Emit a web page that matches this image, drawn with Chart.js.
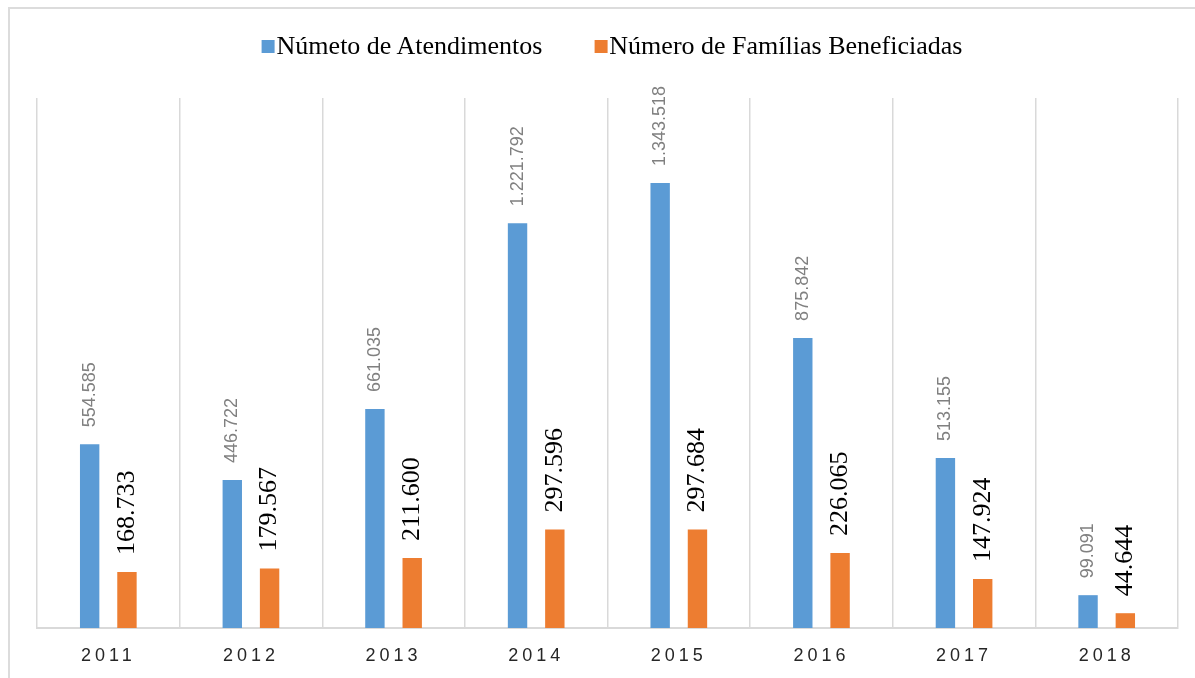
<!DOCTYPE html>
<html>
<head>
<meta charset="utf-8">
<script src="https://cdn.jsdelivr.net/npm/chart.js@4.4.1/dist/chart.umd.min.js"></script>
<style>
    body { margin: 0; background: #fff; }
    #wrap { position: relative; width: 1195px; height: 678px; overflow: hidden; }
    #frame { position: absolute; left: 8px; top: 7px; width: 1200px; height: 700px; border: 2px solid #dcdcdc; }
    #chart { position: absolute; left: 0; top: 0; }
    #legend { position: absolute; top: 32px; left: 612px; transform: translateX(-50%); white-space: nowrap;
              font-family: "Liberation Serif", "Times New Roman", serif; font-size: 26px; line-height: 28px; color: #000; }
    #legend span.item { display: inline-block; margin: 0 26px; }
    #legend span.box { display: inline-block; width: 13px; height: 13px; margin-right: 2px; vertical-align: 1px; }
</style>
</head>
<body>
<div id="wrap">
    <div id="frame"></div>
    <canvas id="chart" width="1195" height="678"></canvas>
    <div id="legend"></div>
</div>
<script>
const years = ["2011", "2012", "2013", "2014", "2015", "2016", "2017", "2018"];
const atendimentos = [554585, 446722, 661035, 1221792, 1343518, 875842, 513155, 99091];
const familias = [168733, 179567, 211600, 297596, 297684, 226065, 147924, 44644];
const seriesNames = ["Númeto de Atendimentos", "Número de Famílias Beneficiadas"];
const seriesColors = ["#5b9bd5", "#ed7d31"];

// 1234567 -> "1.234.567"
function formatNumber(v) {
    return String(v).replace(/\B(?=(\d{3})+(?!\d))/g, ".");
}

// value labels standing up above each bar
const barLabels = {
    id: "barLabels",
    afterDatasetsDraw(chart) {
        const ctx = chart.ctx;
        chart.data.datasets.forEach((ds, i) => {
            const meta = chart.getDatasetMeta(i);
            meta.data.forEach((bar, j) => {
                ctx.save();
                ctx.translate(bar.x, bar.y - 17);
                ctx.rotate(-Math.PI / 2);
                ctx.textAlign = "left";
                ctx.textBaseline = "middle";
                ctx.font = ds.labelFont;
                ctx.fillStyle = ds.labelColor;
                ctx.fillText(formatNumber(ds.data[j]), 0, 0);
                ctx.restore();
            });
        });
        // spaced-out year labels (ticks are drawn after this, z = 1)
        ctx.letterSpacing = "4px";
    },
    afterDraw(chart) {
        chart.ctx.letterSpacing = "0px";
    }
};

const chart = new Chart(document.getElementById("chart"), {
    type: "bar",
    data: {
        labels: years,
        datasets: [{
            label: seriesNames[0],
            data: atendimentos,
            backgroundColor: seriesColors[0],
            labelFont: "18px 'Liberation Sans', Arial, sans-serif",
            labelColor: "#808080"
        }, {
            label: seriesNames[1],
            data: familias,
            backgroundColor: seriesColors[1],
            labelFont: "26px 'Liberation Serif', 'Times New Roman', serif",
            labelColor: "#000000"
        }]
    },
    options: {
        responsive: false,
        animation: false,
        devicePixelRatio: 1,
        layout: { padding: { top: 98, left: 37, right: 17, bottom: 0 } },
        datasets: {
            bar: { categoryPercentage: 0.523, barPercentage: 0.52 }
        },
        scales: {
            x: {
                grid: { color: "#d9d9d9", lineWidth: 1.5, drawTicks: false, offset: true },
                border: { color: "#d9d9d9", width: 2 },
                ticks: {
                    z: 1,
                    padding: 17,
                    color: "#262626",
                    font: { family: "'Liberation Sans', Arial, sans-serif", size: 18 }
                },
                afterFit: (scale) => { scale.height = 50; }
            },
            y: {
                display: false,
                min: 0,
                max: 1600000
            }
        },
        plugins: {
            legend: { display: false },
            tooltip: { enabled: false }
        }
    },
    plugins: [barLabels]
});

// legend in html so the spacing can follow the picture
const legendEl = document.getElementById("legend");
seriesNames.forEach((name, i) => {
    const item = document.createElement("span");
    item.className = "item";
    const box = document.createElement("span");
    box.className = "box";
    box.style.background = seriesColors[i];
    item.appendChild(box);
    item.appendChild(document.createTextNode(name));
    legendEl.appendChild(item);
});
</script>
</body>
</html>
